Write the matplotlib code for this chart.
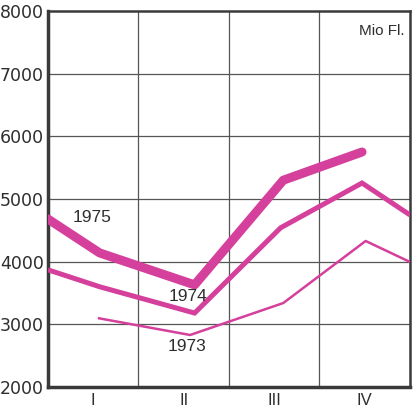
import matplotlib
matplotlib.use("Agg")
import matplotlib.pyplot as plt

# Data (x in quarter-units: 0 = start of year, 4 = end; y in Mio Fl.)
x1975 = [0.0, 0.57, 1.62, 2.60, 3.47]
y1975 = [4680, 4140, 3630, 5300, 5750]

x1974 = [0.0, 0.57, 1.62, 2.57, 3.47, 4.0]
y1974 = [3870, 3600, 3180, 4540, 5255, 4745]

x1973 = [0.55, 1.57, 2.60, 3.51, 4.0]
y1973 = [3100, 2830, 3340, 4330, 3995]

quarter_labels = ["I", "II", "III", "IV"]
yticks = [2000, 3000, 4000, 5000, 6000, 7000, 8000]

pink = "#d4409b"
grid_col = "#555555"
text_col = "#2e2e2e"

fig = plt.figure(figsize=(4.14, 4.11), dpi=100)
ax = fig.add_axes([48/414, 1 - 387/411, (410-48)/414, (387-11)/411])

ax.set_xlim(0, 4)
ax.set_ylim(2000, 8000)

for xv in [1, 2, 3]:
    ax.axvline(xv, color=grid_col, lw=0.9, zorder=1)
for yv in yticks[1:-1]:
    ax.axhline(yv, color=grid_col, lw=0.9, zorder=1)

ax.plot(x1975, y1975, color=pink, lw=6.5, solid_capstyle="round", solid_joinstyle="round", zorder=3)
ax.plot(x1974, y1974, color=pink, lw=3.6, solid_capstyle="butt", solid_joinstyle="miter", zorder=3)
ax.plot(x1973, y1973, color=pink, lw=1.8, solid_capstyle="butt", zorder=3)

txt_font = "Liberation Sans"
ax.text(0.49, 4700, "1975", fontsize=12.5, family=txt_font, color=text_col, ha="center", va="center")
ax.text(1.55, 3440, "1974", fontsize=12.5, family=txt_font, color=text_col, ha="center", va="center", zorder=4)
ax.text(1.54, 2640, "1973", fontsize=12.5, family=txt_font, color=text_col, ha="center", va="center")
ax.text(0.985, 0.965, "Mio Fl.", transform=ax.transAxes, fontsize=11, family=txt_font,
        color=text_col, ha="right", va="top")

ax.set_yticks(yticks)
ax.set_yticklabels([str(v) for v in yticks], fontsize=12.5, family="DejaVu Sans", color=text_col)
ax.set_xticks([0.5, 1.5, 2.5, 3.5])
ax.set_xticklabels(quarter_labels, fontsize=12, family=txt_font, color=text_col)
ax.tick_params(axis="both", length=0, pad=4)
ax.tick_params(axis="y", pad=3)

for side, w in [("left", 2.5), ("bottom", 2.5), ("top", 1.8), ("right", 1.8)]:
    ax.spines[side].set_linewidth(w)
    ax.spines[side].set_color("#3a3a3a")

fig.savefig("out.png", dpi=100)
